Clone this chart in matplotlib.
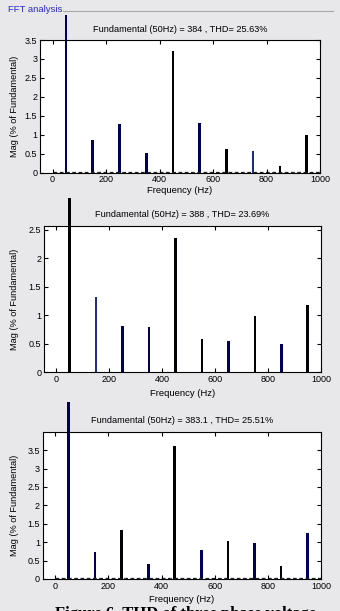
import matplotlib.pyplot as plt
from matplotlib.transforms import Bbox, TransformedBbox
from matplotlib.ticker import FormatStrFormatter

plt.rcParams['font.family'] = ['Liberation Sans', 'DejaVu Sans']

# Harmonic spectra (% of fundamental) for the three cases
freqs = [50, 150, 250, 350, 450, 550, 650, 750, 850, 950]
mag_a = [100, 0.87, 1.29, 0.52, 3.22, 1.32, 0.62, 0.57, 0.17, 1.00]
mag_b = [100, 1.32, 0.81, 0.80, 2.35, 0.58, 0.55, 0.99, 0.50, 1.18]
mag_c = [100, 0.72, 1.32, 0.40, 3.62, 0.80, 1.04, 0.98, 0.34, 1.26]
floor_a = 0.03
floor_c = 0.03

titles = ['Fundamental (50Hz) = 384 , THD= 25.63%',
          'Fundamental (50Hz) = 388 , THD= 23.69%',
          'Fundamental (50Hz) = 383.1 , THD= 25.51%']
ylims = [3.5, 2.57, 4.0]
yticks = [[0, 0.5, 1, 1.5, 2, 2.5, 3, 3.5],
          [0, 0.5, 1, 1.5, 2, 2.5],
          [0, 0.5, 1, 1.5, 2, 2.5, 3, 3.5]]

NV = '#00005c'
BK = '#000008'
colors_a = [NV, NV, NV, NV, BK, NV, BK, '#1c2a8c', BK, BK]
colors_b = [BK, '#20307e', NV, NV, BK, BK, NV, BK, NV, BK]
colors_c = [NV, NV, BK, NV, BK, NV, BK, NV, BK, NV]

W, H = 340, 611
fig = plt.figure(figsize=(W / 100, H / 100), dpi=100, facecolor='#e8e8ea')

# axes boxes in pixels: left, right, top, bottom
boxes = [(40, 320, 40, 172.7), (44, 321, 225.7, 372.3), (42.7, 321, 431.7, 579)]
# top edge of the region where each fundamental bar is visible
clip_tops = [15, 198, 402]
xlab_off = [17.5, 21, 20]

data = [(mag_a, colors_a, floor_a), (mag_b, colors_b, None), (mag_c, colors_c, floor_c)]

for i, (mags, cols, floor) in enumerate(data):
    l, r, t, b = boxes[i]
    ax = fig.add_axes([l / W, 1 - b / H, (r - l) / W, (b - t) / H])
    ax.set_facecolor('white')
    bars = ax.bar(freqs, mags, width=10, color=cols, linewidth=0)
    # fundamental bar runs past the top of the axes
    clip = TransformedBbox(Bbox([[0, 1 - b / H], [1, 1 - clip_tops[i] / H]]), fig.transFigure)
    bars[0].set_clip_box(clip)
    if floor is not None:
        ax.hlines(floor, 0, 1000, colors='#222222', linewidth=0.9,
                  linestyles=(0, (3, 2)), zorder=1)
    ax.set_xlim(-47, 1000)
    ax.set_ylim(0, ylims[i])
    ax.set_xticks([0, 200, 400, 600, 800, 1000])
    ax.set_yticks(yticks[i])
    ax.yaxis.set_major_formatter(FormatStrFormatter('%g'))
    ax.tick_params(direction='in', length=3, width=0.8, labelsize=6.5, pad=2,
                   top=True, right=True)
    for s in ax.spines.values():
        s.set_linewidth(0.8)
    ax.text(0.5, 1 + 11 / (b - t), titles[i], transform=ax.transAxes,
            ha='center', va='center', fontsize=6.6)
    ax.set_xlabel('Frequency (Hz)', fontsize=6.8)
    ax.xaxis.set_label_coords(0.5, -xlab_off[i] / (b - t))
    ax.xaxis.label.set_va('center')
    ax.set_ylabel('Mag (% of Fundamental)', fontsize=6.6)
    ax.yaxis.set_label_coords((14.5 - l) / (r - l), 0.5)
    ax.yaxis.label.set_va('center')

# panel header
fig.text(8 / W, 1 - 10 / H, 'FFT analysis', color='#2a2ac8', fontsize=6.8,
         ha='left', va='center')
fig.add_artist(plt.Line2D([63 / W, 333 / W], [1 - 10.5 / H, 1 - 10.5 / H],
                          color='#a8a8a8', linewidth=0.8))

# caption, mostly below the bottom edge
fig.text(55 / W, 1 - 606.5 / H, 'Figure 6. THD of three phase voltage',
         fontsize=12, fontweight='bold', family='Liberation Serif',
         ha='left', va='top')

fig.savefig('out.png', dpi=100, facecolor=fig.get_facecolor())
